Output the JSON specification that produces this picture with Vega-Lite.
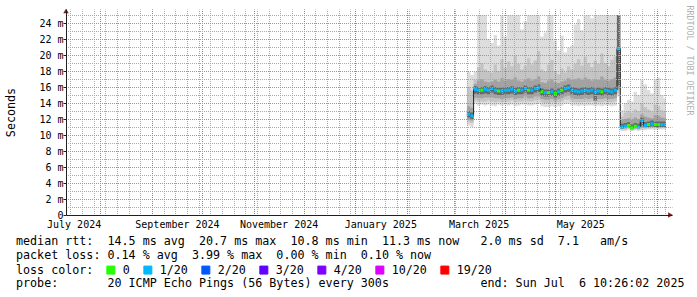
{
  "$schema": "https://vega.github.io/schema/vega-lite/v6.json",
  "width": 606,
  "height": 206,
  "autosize": "none",
  "padding": {"left": 66, "top": 9, "right": 25, "bottom": 82},
  "background": "#ffffff",
  "config": {"view": {"stroke": null}, "font": "DejaVu Sans Mono"},
  "title": {
    "text": [
      "median\u00a0rtt:\u00a0\u00a014.5\u00a0ms\u00a0avg\u00a0\u00a020.7\u00a0ms\u00a0max\u00a0\u00a010.8\u00a0ms\u00a0min\u00a0\u00a011.3\u00a0ms\u00a0now\u00a0\u00a0\u00a02.0\u00a0ms\u00a0sd\u00a0\u00a07.1\u00a0\u00a0\u00a0am/s",
      "packet\u00a0loss:\u00a00.14\u00a0%\u00a0avg\u00a0\u00a03.99\u00a0%\u00a0max\u00a0\u00a00.00\u00a0%\u00a0min\u00a0\u00a00.10\u00a0%\u00a0now"
    ],
    "subtitle": "probe:\u00a0\u00a0\u00a0\u00a0\u00a0\u00a0\u00a020\u00a0ICMP\u00a0Echo\u00a0Pings\u00a0(56\u00a0Bytes)\u00a0every\u00a0300s\u00a0\u00a0\u00a0\u00a0\u00a0\u00a0\u00a0\u00a0\u00a0\u00a0\u00a0\u00a0\u00a0end:\u00a0Sun\u00a0Jul\u00a0\u00a06\u00a010:26:02\u00a02025",
    "orient": "bottom",
    "anchor": "start",
    "frame": "group",
    "dx": -50,
    "offset": -41,
    "font": "DejaVu Sans Mono",
    "fontSize": 11.7,
    "fontWeight": "normal",
    "color": "#000000",
    "lineHeight": 14,
    "subtitleFont": "DejaVu Sans Mono",
    "subtitleFontSize": 11.7,
    "subtitleColor": "#000000",
    "subtitlePadding": 16
  },
  "data": {
    "values": [
      {"t": "2025-03-09", "t2": "2025-03-11", "l1": 11.2, "h1": 17.9, "l2": 11.6, "h2": 16.0, "l3": 11.9, "h3": 13.6, "l4": 12.2, "h4": 13.0, "med": 12.6, "loss": "1/20"},
      {"t": "2025-03-11", "t2": "2025-03-13", "l1": 11.0, "h1": 17.5, "l2": 11.5, "h2": 15.6, "l3": 11.8, "h3": 13.4, "l4": 12.0, "h4": 12.8, "med": 12.4, "loss": "1/20"},
      {"t": "2025-03-13", "t2": "2025-03-15", "l1": 13.9, "h1": 17.9, "l2": 14.3, "h2": 16.9, "l3": 14.7, "h3": 16.4, "l4": 15.2, "h4": 16.1, "med": 15.7, "loss": "1/20"},
      {"t": "2025-03-15", "t2": "2025-03-17", "l1": 13.7, "h1": 25, "l2": 14.2, "h2": 18.5, "l3": 14.6, "h3": 16.8, "l4": 15.1, "h4": 16.0, "med": 15.6, "loss": "1/20"},
      {"t": "2025-03-17", "t2": "2025-03-19", "l1": 13.8, "h1": 25, "l2": 14.2, "h2": 19.0, "l3": 14.6, "h3": 17.0, "l4": 15.1, "h4": 16.0, "med": 15.6, "loss": "0"},
      {"t": "2025-03-19", "t2": "2025-03-21", "l1": 13.7, "h1": 25, "l2": 14.2, "h2": 18.2, "l3": 14.7, "h3": 16.7, "l4": 15.2, "h4": 16.1, "med": 15.7, "loss": "1/20"},
      {"t": "2025-03-21", "t2": "2025-03-23", "l1": 13.8, "h1": 22.0, "l2": 14.3, "h2": 18.0, "l3": 14.7, "h3": 16.6, "l4": 15.1, "h4": 16.0, "med": 15.6, "loss": "1/20"},
      {"t": "2025-03-23", "t2": "2025-03-25", "l1": 13.7, "h1": 21.5, "l2": 14.2, "h2": 17.8, "l3": 14.7, "h3": 16.7, "l4": 15.3, "h4": 16.2, "med": 15.8, "loss": "1/20"},
      {"t": "2025-03-25", "t2": "2025-03-27", "l1": 13.6, "h1": 22.5, "l2": 14.1, "h2": 18.8, "l3": 14.6, "h3": 16.9, "l4": 15.1, "h4": 16.0, "med": 15.6, "loss": "1/20"},
      {"t": "2025-03-27", "t2": "2025-03-29", "l1": 13.8, "h1": 21.2, "l2": 14.2, "h2": 18.0, "l3": 14.6, "h3": 16.7, "l4": 15.0, "h4": 15.9, "med": 15.5, "loss": "0"},
      {"t": "2025-03-29", "t2": "2025-03-31", "l1": 13.7, "h1": 25, "l2": 14.1, "h2": 19.5, "l3": 14.5, "h3": 17.1, "l4": 15.0, "h4": 15.9, "med": 15.5, "loss": "1/20"},
      {"t": "2025-03-31", "t2": "2025-04-02", "l1": 13.8, "h1": 22.3, "l2": 14.2, "h2": 18.4, "l3": 14.6, "h3": 16.8, "l4": 15.1, "h4": 16.0, "med": 15.6, "loss": "1/20"},
      {"t": "2025-04-02", "t2": "2025-04-04", "l1": 13.7, "h1": 25, "l2": 14.2, "h2": 19.2, "l3": 14.6, "h3": 17.0, "l4": 15.1, "h4": 16.0, "med": 15.6, "loss": "1/20"},
      {"t": "2025-04-04", "t2": "2025-04-06", "l1": 13.8, "h1": 25, "l2": 14.3, "h2": 18.6, "l3": 14.7, "h3": 16.9, "l4": 15.2, "h4": 16.1, "med": 15.7, "loss": "1/20"},
      {"t": "2025-04-06", "t2": "2025-04-08", "l1": 13.6, "h1": 25, "l2": 14.1, "h2": 20.0, "l3": 14.5, "h3": 17.2, "l4": 15.0, "h4": 15.9, "med": 15.5, "loss": "1/20"},
      {"t": "2025-04-08", "t2": "2025-04-10", "l1": 13.7, "h1": 25, "l2": 14.2, "h2": 18.9, "l3": 14.6, "h3": 16.8, "l4": 15.1, "h4": 16.0, "med": 15.6, "loss": "0"},
      {"t": "2025-04-10", "t2": "2025-04-12", "l1": 13.8, "h1": 23.2, "l2": 14.2, "h2": 18.2, "l3": 14.6, "h3": 16.7, "l4": 15.1, "h4": 16.0, "med": 15.6, "loss": "1/20"},
      {"t": "2025-04-12", "t2": "2025-04-14", "l1": 13.8, "h1": 24.2, "l2": 14.3, "h2": 18.7, "l3": 14.8, "h3": 16.9, "l4": 15.3, "h4": 16.2, "med": 15.8, "loss": "1/20"},
      {"t": "2025-04-14", "t2": "2025-04-16", "l1": 13.7, "h1": 25, "l2": 14.2, "h2": 19.6, "l3": 14.6, "h3": 17.1, "l4": 15.1, "h4": 16.0, "med": 15.6, "loss": "0"},
      {"t": "2025-04-16", "t2": "2025-04-18", "l1": 13.7, "h1": 25, "l2": 14.2, "h2": 18.8, "l3": 14.6, "h3": 16.8, "l4": 15.1, "h4": 16.0, "med": 15.6, "loss": "1/20"},
      {"t": "2025-04-18", "t2": "2025-04-20", "l1": 13.8, "h1": 25, "l2": 14.3, "h2": 19.3, "l3": 14.8, "h3": 17.0, "l4": 15.3, "h4": 16.2, "med": 15.8, "loss": "1/20"},
      {"t": "2025-04-20", "t2": "2025-04-22", "l1": 13.9, "h1": 25, "l2": 14.4, "h2": 20.5, "l3": 14.8, "h3": 17.3, "l4": 15.4, "h4": 16.3, "med": 15.9, "loss": "1/20"},
      {"t": "2025-04-22", "t2": "2025-04-24", "l1": 13.6, "h1": 22.3, "l2": 14.1, "h2": 18.2, "l3": 14.5, "h3": 16.6, "l4": 14.9, "h4": 15.8, "med": 15.4, "loss": "0"},
      {"t": "2025-04-24", "t2": "2025-04-26", "l1": 13.5, "h1": 22.8, "l2": 14.0, "h2": 17.9, "l3": 14.4, "h3": 16.5, "l4": 14.8, "h4": 15.7, "med": 15.3, "loss": "1/20"},
      {"t": "2025-04-26", "t2": "2025-04-28", "l1": 13.5, "h1": 25, "l2": 14.0, "h2": 18.8, "l3": 14.4, "h3": 16.8, "l4": 14.8, "h4": 15.7, "med": 15.3, "loss": "0"},
      {"t": "2025-04-28", "t2": "2025-04-30", "l1": 13.6, "h1": 25, "l2": 14.1, "h2": 19.4, "l3": 14.5, "h3": 17.0, "l4": 14.9, "h4": 15.8, "med": 15.4, "loss": "1/20"},
      {"t": "2025-04-30", "t2": "2025-05-02", "l1": 13.5, "h1": 21.8, "l2": 14.0, "h2": 18.0, "l3": 14.3, "h3": 16.6, "l4": 14.7, "h4": 15.6, "med": 15.2, "loss": "0"},
      {"t": "2025-05-02", "t2": "2025-05-04", "l1": 13.6, "h1": 20.6, "l2": 14.1, "h2": 17.6, "l3": 14.5, "h3": 16.5, "l4": 14.9, "h4": 15.8, "med": 15.4, "loss": "1/20"},
      {"t": "2025-05-04", "t2": "2025-05-06", "l1": 13.7, "h1": 22.4, "l2": 14.2, "h2": 18.3, "l3": 14.6, "h3": 16.7, "l4": 15.1, "h4": 16.0, "med": 15.6, "loss": "0"},
      {"t": "2025-05-06", "t2": "2025-05-08", "l1": 13.9, "h1": 20.3, "l2": 14.4, "h2": 17.8, "l3": 14.8, "h3": 16.8, "l4": 15.3, "h4": 16.2, "med": 15.8, "loss": "1/20"},
      {"t": "2025-05-08", "t2": "2025-05-10", "l1": 13.9, "h1": 20.9, "l2": 14.4, "h2": 18.6, "l3": 14.9, "h3": 17.1, "l4": 15.4, "h4": 16.3, "med": 15.9, "loss": "1/20"},
      {"t": "2025-05-10", "t2": "2025-05-12", "l1": 13.7, "h1": 21.2, "l2": 14.2, "h2": 18.2, "l3": 14.6, "h3": 16.9, "l4": 15.1, "h4": 16.0, "med": 15.6, "loss": "1/20"},
      {"t": "2025-05-12", "t2": "2025-05-14", "l1": 13.7, "h1": 23.8, "l2": 14.1, "h2": 18.9, "l3": 14.5, "h3": 17.0, "l4": 15.0, "h4": 15.9, "med": 15.5, "loss": "1/20"},
      {"t": "2025-05-14", "t2": "2025-05-16", "l1": 13.6, "h1": 24.5, "l2": 14.1, "h2": 19.5, "l3": 14.5, "h3": 17.1, "l4": 14.9, "h4": 15.8, "med": 15.4, "loss": "1/20"},
      {"t": "2025-05-16", "t2": "2025-05-18", "l1": 13.7, "h1": 23.1, "l2": 14.1, "h2": 18.7, "l3": 14.5, "h3": 16.9, "l4": 15.0, "h4": 15.9, "med": 15.5, "loss": "1/20"},
      {"t": "2025-05-18", "t2": "2025-05-20", "l1": 13.7, "h1": 25, "l2": 14.2, "h2": 19.8, "l3": 14.6, "h3": 17.2, "l4": 15.1, "h4": 16.0, "med": 15.6, "loss": "1/20"},
      {"t": "2025-05-20", "t2": "2025-05-22", "l1": 13.7, "h1": 25, "l2": 14.1, "h2": 19.0, "l3": 14.5, "h3": 17.0, "l4": 15.0, "h4": 15.9, "med": 15.5, "loss": "1/20"},
      {"t": "2025-05-22", "t2": "2025-05-24", "l1": 13.7, "h1": 24.6, "l2": 14.2, "h2": 18.5, "l3": 14.6, "h3": 16.8, "l4": 15.1, "h4": 16.0, "med": 15.6, "loss": "1/20"},
      {"t": "2025-05-24", "t2": "2025-05-26", "l1": 13.6, "h1": 25, "l2": 14.0, "h2": 19.3, "l3": 14.3, "h3": 17.0, "l4": 14.3, "h4": 15.8, "med": 15.4, "loss": "1/20"},
      {"t": "2025-05-26", "t2": "2025-05-28", "l1": 13.7, "h1": 25, "l2": 14.1, "h2": 18.9, "l3": 14.5, "h3": 16.9, "l4": 15.0, "h4": 15.9, "med": 15.5, "loss": "1/20"},
      {"t": "2025-05-28", "t2": "2025-05-30", "l1": 13.6, "h1": 25, "l2": 14.1, "h2": 20.2, "l3": 14.5, "h3": 17.3, "l4": 14.9, "h4": 15.8, "med": 15.4, "loss": "0"},
      {"t": "2025-05-30", "t2": "2025-06-01", "l1": 13.7, "h1": 25, "l2": 14.2, "h2": 19.0, "l3": 14.6, "h3": 16.9, "l4": 15.1, "h4": 16.0, "med": 15.6, "loss": "1/20"},
      {"t": "2025-06-01", "t2": "2025-06-03", "l1": 13.7, "h1": 25, "l2": 14.1, "h2": 18.6, "l3": 14.5, "h3": 16.8, "l4": 15.0, "h4": 15.9, "med": 15.5, "loss": "1/20"},
      {"t": "2025-06-03", "t2": "2025-06-05", "l1": 13.6, "h1": 25, "l2": 14.1, "h2": 19.4, "l3": 14.5, "h3": 17.0, "l4": 14.9, "h4": 15.8, "med": 15.4, "loss": "1/20"},
      {"t": "2025-06-05", "t2": "2025-06-07", "l1": 13.7, "h1": 25, "l2": 14.2, "h2": 19.8, "l3": 14.6, "h3": 17.2, "l4": 15.1, "h4": 16.0, "med": 15.6, "loss": "1/20"},
      {"t": "2025-06-07", "t2": "2025-06-09", "l1": 14.8, "h1": 25, "l2": 15.2, "h2": 25, "l3": 15.6, "h3": 25, "l4": 16.2, "h4": 25, "med": 20.8, "loss": "1/20"},
      {"t": "2025-06-09", "t2": "2025-06-11", "l1": 10.5, "h1": 13.1, "l2": 10.7, "h2": 12.3, "l3": 10.8, "h3": 11.9, "l4": 10.8, "h4": 11.4, "med": 11.0, "loss": "1/20"},
      {"t": "2025-06-11", "t2": "2025-06-13", "l1": 10.5, "h1": 14.0, "l2": 10.7, "h2": 12.8, "l3": 10.8, "h3": 12.0, "l4": 10.9, "h4": 11.5, "med": 11.1, "loss": "1/20"},
      {"t": "2025-06-13", "t2": "2025-06-15", "l1": 10.6, "h1": 14.4, "l2": 10.8, "h2": 13.0, "l3": 10.9, "h3": 12.1, "l4": 11.0, "h4": 11.6, "med": 11.2, "loss": "0"},
      {"t": "2025-06-15", "t2": "2025-06-17", "l1": 10.5, "h1": 14.2, "l2": 10.6, "h2": 12.8, "l3": 10.7, "h3": 11.9, "l4": 10.8, "h4": 11.3, "med": 10.9, "loss": "0"},
      {"t": "2025-06-17", "t2": "2025-06-19", "l1": 10.6, "h1": 15.4, "l2": 10.7, "h2": 13.2, "l3": 10.8, "h3": 12.2, "l4": 10.9, "h4": 11.5, "med": 11.1, "loss": "0"},
      {"t": "2025-06-19", "t2": "2025-06-21", "l1": 10.5, "h1": 15.0, "l2": 10.7, "h2": 13.0, "l3": 10.8, "h3": 12.0, "l4": 10.9, "h4": 11.4, "med": 11.0, "loss": "1/20"},
      {"t": "2025-06-21", "t2": "2025-06-23", "l1": 10.6, "h1": 16.9, "l2": 10.8, "h2": 14.0, "l3": 10.9, "h3": 12.6, "l4": 11.1, "h4": 12.2, "med": 11.8, "loss": "1/20"},
      {"t": "2025-06-23", "t2": "2025-06-25", "l1": 10.6, "h1": 16.3, "l2": 10.8, "h2": 13.5, "l3": 10.9, "h3": 12.3, "l4": 11.0, "h4": 11.6, "med": 11.2, "loss": "1/20"},
      {"t": "2025-06-25", "t2": "2025-06-27", "l1": 10.7, "h1": 15.6, "l2": 10.8, "h2": 13.2, "l3": 11.0, "h3": 12.2, "l4": 11.0, "h4": 11.7, "med": 11.3, "loss": "0"},
      {"t": "2025-06-27", "t2": "2025-06-29", "l1": 10.7, "h1": 15.2, "l2": 10.9, "h2": 13.0, "l3": 11.0, "h3": 12.1, "l4": 11.1, "h4": 11.8, "med": 11.4, "loss": "1/20"},
      {"t": "2025-06-29", "t2": "2025-07-01", "l1": 10.7, "h1": 17.0, "l2": 10.9, "h2": 13.8, "l3": 11.0, "h3": 12.5, "l4": 11.0, "h4": 11.7, "med": 11.3, "loss": "0"},
      {"t": "2025-07-01", "t2": "2025-07-03", "l1": 10.7, "h1": 17.2, "l2": 10.8, "h2": 13.6, "l3": 11.0, "h3": 12.4, "l4": 11.0, "h4": 11.7, "med": 11.3, "loss": "0"},
      {"t": "2025-07-03", "t2": "2025-07-05", "l1": 10.7, "h1": 15.0, "l2": 10.9, "h2": 13.1, "l3": 11.0, "h3": 12.2, "l4": 11.0, "h4": 11.7, "med": 11.3, "loss": "1/20"},
      {"t": "2025-07-05", "t2": "2025-07-06T10:26:02Z", "l1": 10.7, "h1": 14.6, "l2": 10.9, "h2": 12.9, "l3": 11.0, "h3": 12.1, "l4": 11.0, "h4": 11.7, "med": 11.3, "loss": "1/20"},
      {"t": "2025-07-06T10:26:02Z", "t2": "2025-07-06T10:26:02Z", "l1": 10.7, "h1": 14.6, "l2": 10.9, "h2": 12.9, "l3": 11.0, "h3": 12.1, "l4": 11.0, "h4": 11.7, "med": 11.3, "loss": "1/20"}
    ]
  },
  "resolve": {"axis": {"x": "independent", "y": "independent"}},
  "layer": [
    {
      "mark": {"type": "area", "interpolate": "step-after", "color": "#dddddd"},
      "encoding": {
        "x": {
          "field": "t", "type": "temporal",
          "scale": {"type": "utc", "domain": [{"year": 2024, "month": 7, "date": 11, "hours": 10, "minutes": 26, "seconds": 2, "utc": true}, {"year": 2025, "month": 7, "date": 10, "hours": 0, "minutes": 50, "seconds": 2, "utc": true}]},
          "axis": {"orient": "bottom", "tickCount": {"interval": "week", "step": 1}, "grid": true, "gridColor": "#a8a8a8", "gridOpacity": 1, "gridDash": [1, 1], "gridDashOffset": 0.5, "gridWidth": 1, "labels": false, "ticks": false, "domain": false, "title": null, "zindex": 1}
        },
        "y": {
          "field": "l1", "type": "quantitative",
          "scale": {"domain": [0, 25.75], "nice": false, "zero": false},
          "axis": {"orient": "left", "values": [1, 3, 5, 7, 9, 11, 13, 15, 17, 19, 21, 23, 25], "grid": true, "gridColor": "#a8a8a8", "gridOpacity": 1, "gridDash": [1, 1], "gridDashOffset": 0.5, "gridWidth": 1, "labels": false, "ticks": false, "domain": false, "title": null, "zindex": 1}
        },
        "y2": {"field": "h1"}
      }
    },
    {
      "mark": {"type": "area", "interpolate": "step-after", "color": "#c4c4c4"},
      "encoding": {
        "x": {
          "field": "t", "type": "temporal",
          "scale": {"type": "utc", "domain": [{"year": 2024, "month": 7, "date": 11, "hours": 10, "minutes": 26, "seconds": 2, "utc": true}, {"year": 2025, "month": 7, "date": 10, "hours": 0, "minutes": 50, "seconds": 2, "utc": true}]},
          "axis": {"orient": "bottom", "tickCount": {"interval": "month", "step": 1}, "grid": true, "gridColor": "#dc6060", "gridOpacity": 1, "gridDash": [1, 1], "gridDashOffset": 0.5, "gridWidth": 1, "labels": false, "ticks": false, "domain": false, "title": null, "zindex": 1}
        },
        "y": {
          "field": "l2", "type": "quantitative",
          "scale": {"domain": [0, 25.75], "nice": false, "zero": false},
          "axis": {"orient": "left", "values": [2, 4, 6, 8, 10, 12, 14, 16, 18, 20, 22, 24], "grid": true, "gridColor": "#e27878", "gridOpacity": 1, "gridDash": [1, 1], "gridDashOffset": 0.5, "gridWidth": 1, "labels": false, "ticks": false, "domain": false, "title": null, "zindex": 1}
        },
        "y2": {"field": "h2"}
      }
    },
    {
      "mark": {"type": "area", "interpolate": "step-after", "color": "#a2a2a2"},
      "encoding": {
        "x": {
          "field": "t", "type": "temporal",
          "scale": {"type": "utc", "domain": [{"year": 2024, "month": 7, "date": 11, "hours": 10, "minutes": 26, "seconds": 2, "utc": true}, {"year": 2025, "month": 7, "date": 10, "hours": 0, "minutes": 50, "seconds": 2, "utc": true}]},
          "axis": {
            "orient": "bottom",
            "values": [
              {"year": 2024, "month": 7, "date": 16, "utc": true},
              {"year": 2024, "month": 9, "date": 16, "utc": true},
              {"year": 2024, "month": 11, "date": 16, "utc": true},
              {"year": 2025, "month": 1, "date": 16, "utc": true},
              {"year": 2025, "month": 3, "date": 16, "utc": true},
              {"year": 2025, "month": 5, "date": 16, "utc": true}
            ],
            "format": "%B %Y",
            "grid": false, "ticks": false, "domain": true, "domainColor": "#1f1f1f", "domainWidth": 1,
            "labelFont": "DejaVu Sans Mono", "labelFontSize": 10, "labelColor": "#000000", "labelPadding": 4,
            "labelFlush": false, "labelOverlap": false, "title": null, "zindex": 2
          }
        },
        "y": {
          "field": "l3", "type": "quantitative",
          "scale": {"domain": [0, 25.75], "nice": false, "zero": false},
          "axis": {
            "orient": "left",
            "values": [0, 2, 4, 6, 8, 10, 12, 14, 16, 18, 20, 22, 24],
            "labelExpr": "datum.value == 0 ? '0\u00a0\u00a0' : datum.value + ' m'",
            "grid": false, "ticks": true, "tickSize": 3, "tickColor": "#1f1f1f",
            "domain": true, "domainColor": "#1f1f1f", "domainWidth": 1,
            "labelFont": "DejaVu Sans Mono", "labelFontSize": 10, "labelColor": "#000000", "labelPadding": 0,
            "labelFlush": false, "labelOverlap": false,
            "title": "Seconds", "titleFont": "DejaVu Sans Mono", "titleFontSize": 11.7, "titleFontWeight": "normal",
            "titleColor": "#000000", "titleX": -56, "titleBaseline": "middle",
            "zindex": 2
          }
        },
        "y2": {"field": "h3"}
      }
    },
    {
      "mark": {"type": "area", "interpolate": "step-after", "color": "#686868"},
      "encoding": {
        "x": {
          "field": "t", "type": "temporal",
          "scale": {"type": "utc", "domain": [{"year": 2024, "month": 7, "date": 11, "hours": 10, "minutes": 26, "seconds": 2, "utc": true}, {"year": 2025, "month": 7, "date": 10, "hours": 0, "minutes": 50, "seconds": 2, "utc": true}]},
          "axis": null
        },
        "y": {
          "field": "l4", "type": "quantitative",
          "scale": {"domain": [0, 25.75], "nice": false, "zero": false},
          "axis": {
            "orient": "right", "title": "RRDTOOL / TOBI OETIKER",
            "labels": false, "ticks": false, "domain": false, "grid": false,
            "titleAngle": 90, "titleX": 16, "titleY": -4, "titleAlign": "left", "titleBaseline": "middle",
            "titleFont": "DejaVu Sans Mono", "titleFontSize": 8.3, "titleFontWeight": "normal", "titleColor": "#b0b0b0"
          }
        },
        "y2": {"field": "h4"}
      }
    },
    {
      "mark": {"type": "line", "interpolate": "step-after", "color": "#202020", "strokeWidth": 1},
      "encoding": {
        "x": {
          "field": "t", "type": "temporal",
          "scale": {"type": "utc", "domain": [{"year": 2024, "month": 7, "date": 11, "hours": 10, "minutes": 26, "seconds": 2, "utc": true}, {"year": 2025, "month": 7, "date": 10, "hours": 0, "minutes": 50, "seconds": 2, "utc": true}]},
          "axis": null
        },
        "y": {"field": "med", "type": "quantitative", "scale": {"domain": [0, 25.75], "nice": false, "zero": false}, "axis": null}
      }
    },
    {
      "mark": {"type": "rule", "strokeWidth": 3, "strokeCap": "butt"},
      "encoding": {
        "x": {
          "field": "t", "type": "temporal",
          "scale": {"type": "utc", "domain": [{"year": 2024, "month": 7, "date": 11, "hours": 10, "minutes": 26, "seconds": 2, "utc": true}, {"year": 2025, "month": 7, "date": 10, "hours": 0, "minutes": 50, "seconds": 2, "utc": true}]},
          "axis": null
        },
        "x2": {"field": "t2"},
        "y": {"field": "med", "type": "quantitative", "scale": {"domain": [0, 25.75], "nice": false, "zero": false}, "axis": null},
        "color": {
          "field": "loss", "type": "nominal",
          "scale": {
            "domain": ["0", "1/20", "2/20", "3/20", "4/20", "10/20", "19/20"],
            "range": ["#26ff00", "#00b8ff", "#0059ff", "#5e00ff", "#7e00ff", "#dd00ff", "#ff0000"]
          },
          "legend": {
            "orient": "none", "legendX": -50, "legendY": 255,
            "direction": "horizontal",
            "title": "loss color:", "titleOrient": "left", "titlePadding": 11,
            "titleFont": "DejaVu Sans Mono", "titleFontSize": 11.7, "titleFontWeight": "normal", "titleColor": "#000000",
            "titleBaseline": "middle",
            "labelFont": "DejaVu Sans Mono", "labelFontSize": 11.7, "labelColor": "#000000", "labelOffset": 6,
            "columnPadding": 11,
            "symbolType": "square", "symbolSize": 64, "symbolStrokeColor": "#000000", "symbolStrokeWidth": 1,
            "encode": {
              "symbols": {
                "update": {
                  "fill": {"scale": "color", "field": "value"},
                  "stroke": {"value": "#000000"},
                  "strokeWidth": {"value": 1},
                  "opacity": {"value": 1},
                  "shape": {"value": "square"},
                  "size": {"value": 64}
                }
              }
            }
          }
        }
      }
    },
    {
      "data": {"values": [{}]},
      "mark": {"type": "point", "shape": "triangle-up", "filled": true, "color": "#801f1f", "size": 30, "opacity": 1},
      "encoding": {
        "x": {
          "datum": {"year": 2024, "month": 7, "date": 11, "hours": 10, "minutes": 26, "seconds": 2, "utc": true}, "type": "temporal",
          "scale": {"type": "utc", "domain": [{"year": 2024, "month": 7, "date": 11, "hours": 10, "minutes": 26, "seconds": 2, "utc": true}, {"year": 2025, "month": 7, "date": 10, "hours": 0, "minutes": 50, "seconds": 2, "utc": true}]},
          "axis": null
        },
        "y": {"datum": 25.5, "type": "quantitative", "scale": {"domain": [0, 25.75], "nice": false, "zero": false}, "axis": null}
      }
    },
    {
      "data": {"values": [{}]},
      "mark": {"type": "point", "shape": "triangle-right", "filled": true, "color": "#801f1f", "size": 30, "opacity": 1},
      "encoding": {
        "x": {
          "datum": {"year": 2025, "month": 7, "date": 9, "hours": 3, "minutes": 0, "utc": true}, "type": "temporal",
          "scale": {"type": "utc", "domain": [{"year": 2024, "month": 7, "date": 11, "hours": 10, "minutes": 26, "seconds": 2, "utc": true}, {"year": 2025, "month": 7, "date": 10, "hours": 0, "minutes": 50, "seconds": 2, "utc": true}]},
          "axis": null
        },
        "y": {"datum": 0, "type": "quantitative", "scale": {"domain": [0, 25.75], "nice": false, "zero": false}, "axis": null}
      }
    }
  ]
}
